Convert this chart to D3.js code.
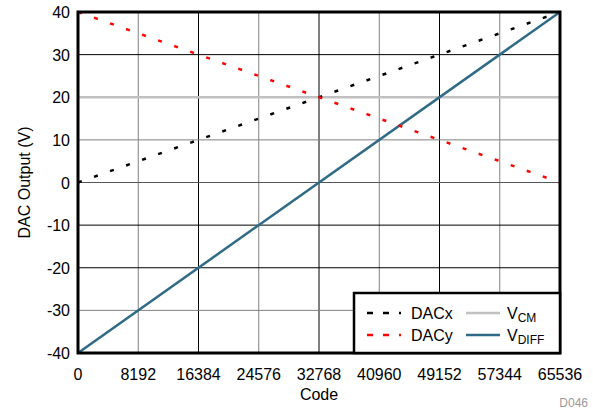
<!DOCTYPE html>
<html lang="en">
<head>
<meta charset="UTF-8">
<title>DAC Output vs Code</title>
<script src="https://d3js.org/d3.v7.min.js"></script>
<style>
    body { margin: 0; background: #fff; }
    svg text { font-family: "Liberation Sans", Arial, sans-serif; fill: #000; }
</style>
</head>
<body>
<div id="chart"></div>
<script>
    // data
    var codes = [0, 65536];
    var dacx = [0, 40];
    var dacy = [40, 0];
    var vcm = [20, 20];
    var vdiff = [-40, 40];
    var xTicks = [0, 8192, 16384, 24576, 32768, 40960, 49152, 57344, 65536];
    var yTicks = [-40, -30, -20, -10, 0, 10, 20, 30, 40];

    var width = 593, height = 410;
    var margin = {left: 78, right: 33, top: 12, bottom: 57};

    var svg = d3.select('#chart').append('svg')
        .attr('width', width)
        .attr('height', height);

    var x = d3.scaleLinear().domain([0, 65536]).range([margin.left, width - margin.right]);
    var y = d3.scaleLinear().domain([-40, 40]).range([height - margin.bottom, margin.top]);

    // gridlines (the antialiasing in the original makes some look grey)
    var vGridColor = function (d, i) { return i % 2 ? '#808080' : '#000'; };
    var hGridColor = {'30': '#000', '10': '#808080', '0': '#555', '-10': '#000', '-20': '#000', '-30': '#808080'};

    svg.append('g').selectAll('line')
        .data(xTicks.slice(1, -1))
        .enter().append('line')
        .attr('x1', function (d) { return x(d); })
        .attr('x2', function (d) { return x(d); })
        .attr('y1', y(40)).attr('y2', y(-40))
        .attr('stroke', function (d, i) { return vGridColor(d, i + 1); })
        .attr('stroke-width', 1);

    svg.append('g').selectAll('line')
        .data(yTicks.filter(function (d) { return d !== 40 && d !== -40 && d !== 20; }))
        .enter().append('line')
        .attr('x1', x(0)).attr('x2', x(65536))
        .attr('y1', function (d) { return y(d); })
        .attr('y2', function (d) { return y(d); })
        .attr('stroke', function (d) { return hGridColor[d]; })
        .attr('stroke-width', 1);

    // series
    var pts = function (vals) { return codes.map(function (c, i) { return [c, vals[i]]; }); };
    var line = d3.line().x(function (d) { return x(d[0]); }).y(function (d) { return y(d[1]); });

    svg.append('path').datum(pts(vcm)).attr('d', line)
        .attr('fill', 'none').attr('stroke', '#c0c0c0').attr('stroke-width', 2.5);

    svg.append('path').datum(pts(vdiff)).attr('d', line)
        .attr('fill', 'none').attr('stroke', '#2f6b86').attr('stroke-width', 2.5);

    svg.append('path').datum(pts(dacx)).attr('d', line)
        .attr('fill', 'none').attr('stroke', '#000').attr('stroke-width', 2.5)
        .attr('stroke-dasharray', '4,13');

    svg.append('path').datum(pts(dacy)).attr('d', line)
        .attr('fill', 'none').attr('stroke', '#ff0000').attr('stroke-width', 2.5)
        .attr('stroke-dasharray', '4,13');

    // axes tick labels
    svg.append('g').selectAll('text')
        .data(yTicks)
        .enter().append('text')
        .attr('x', x(0) - 8)
        .attr('y', function (d) { return y(d) + 6; })
        .attr('text-anchor', 'end')
        .style('font-size', '16px')
        .text(function (d) { return d; });

    svg.append('g').selectAll('text')
        .data(xTicks)
        .enter().append('text')
        .attr('x', function (d) { return x(d); })
        .attr('y', 380)
        .attr('text-anchor', 'middle')
        .style('font-size', '16px')
        .text(function (d) { return d; });

    svg.append('text')
        .attr('x', (x(0) + x(65536)) / 2)
        .attr('y', 400)
        .attr('text-anchor', 'middle')
        .style('font-size', '16px')
        .text('Code');

    svg.append('text')
        .attr('transform', 'translate(30,' + y(0) + ') rotate(-90)')
        .attr('text-anchor', 'middle')
        .style('font-size', '16px')
        .text('DAC Output (V)');

    svg.append('text')
        .attr('x', 588).attr('y', 407)
        .attr('text-anchor', 'end')
        .style('font-size', '12px')
        .style('fill', '#999')
        .text('D046');

    // frame
    svg.append('rect')
        .attr('x', x(0)).attr('y', y(40))
        .attr('width', x(65536) - x(0))
        .attr('height', y(-40) - y(40))
        .attr('fill', 'none').attr('stroke', '#000').attr('stroke-width', 3);

    // legend
    var lg = svg.append('g').attr('transform', 'translate(354,293)');
    lg.append('rect')
        .attr('width', x(65536) - 354).attr('height', y(-40) - 293)
        .attr('fill', '#fff').attr('stroke', '#000').attr('stroke-width', 2.5);

    var legendItems = [
        {col: 0, row: 0, color: '#000', dash: '6,10', label: 'DACx'},
        {col: 0, row: 1, color: '#ff0000', dash: '6,10', label: 'DACy'},
        {col: 1, row: 0, color: '#c0c0c0', dash: null, label: 'V', sub: 'CM'},
        {col: 1, row: 1, color: '#2f6b86', dash: null, label: 'V', sub: 'DIFF'}
    ];

    legendItems.forEach(function (it) {
        var lx = it.col ? 112 : 13, ly = it.row ? 42 : 20;
        lg.append('line')
            .attr('x1', lx).attr('x2', lx + 34)
            .attr('y1', ly).attr('y2', ly)
            .attr('stroke', it.color).attr('stroke-width', 2.5)
            .attr('stroke-dasharray', it.dash);
        var t = lg.append('text')
            .attr('x', lx + (it.col ? 41 : 44))
            .attr('y', ly + 6)
            .style('font-size', '16px')
            .text(it.label);
        if (it.sub) {
            t.append('tspan').attr('dy', 3).style('font-size', '12px').text(it.sub);
        }
    });
</script>
</body>
</html>
